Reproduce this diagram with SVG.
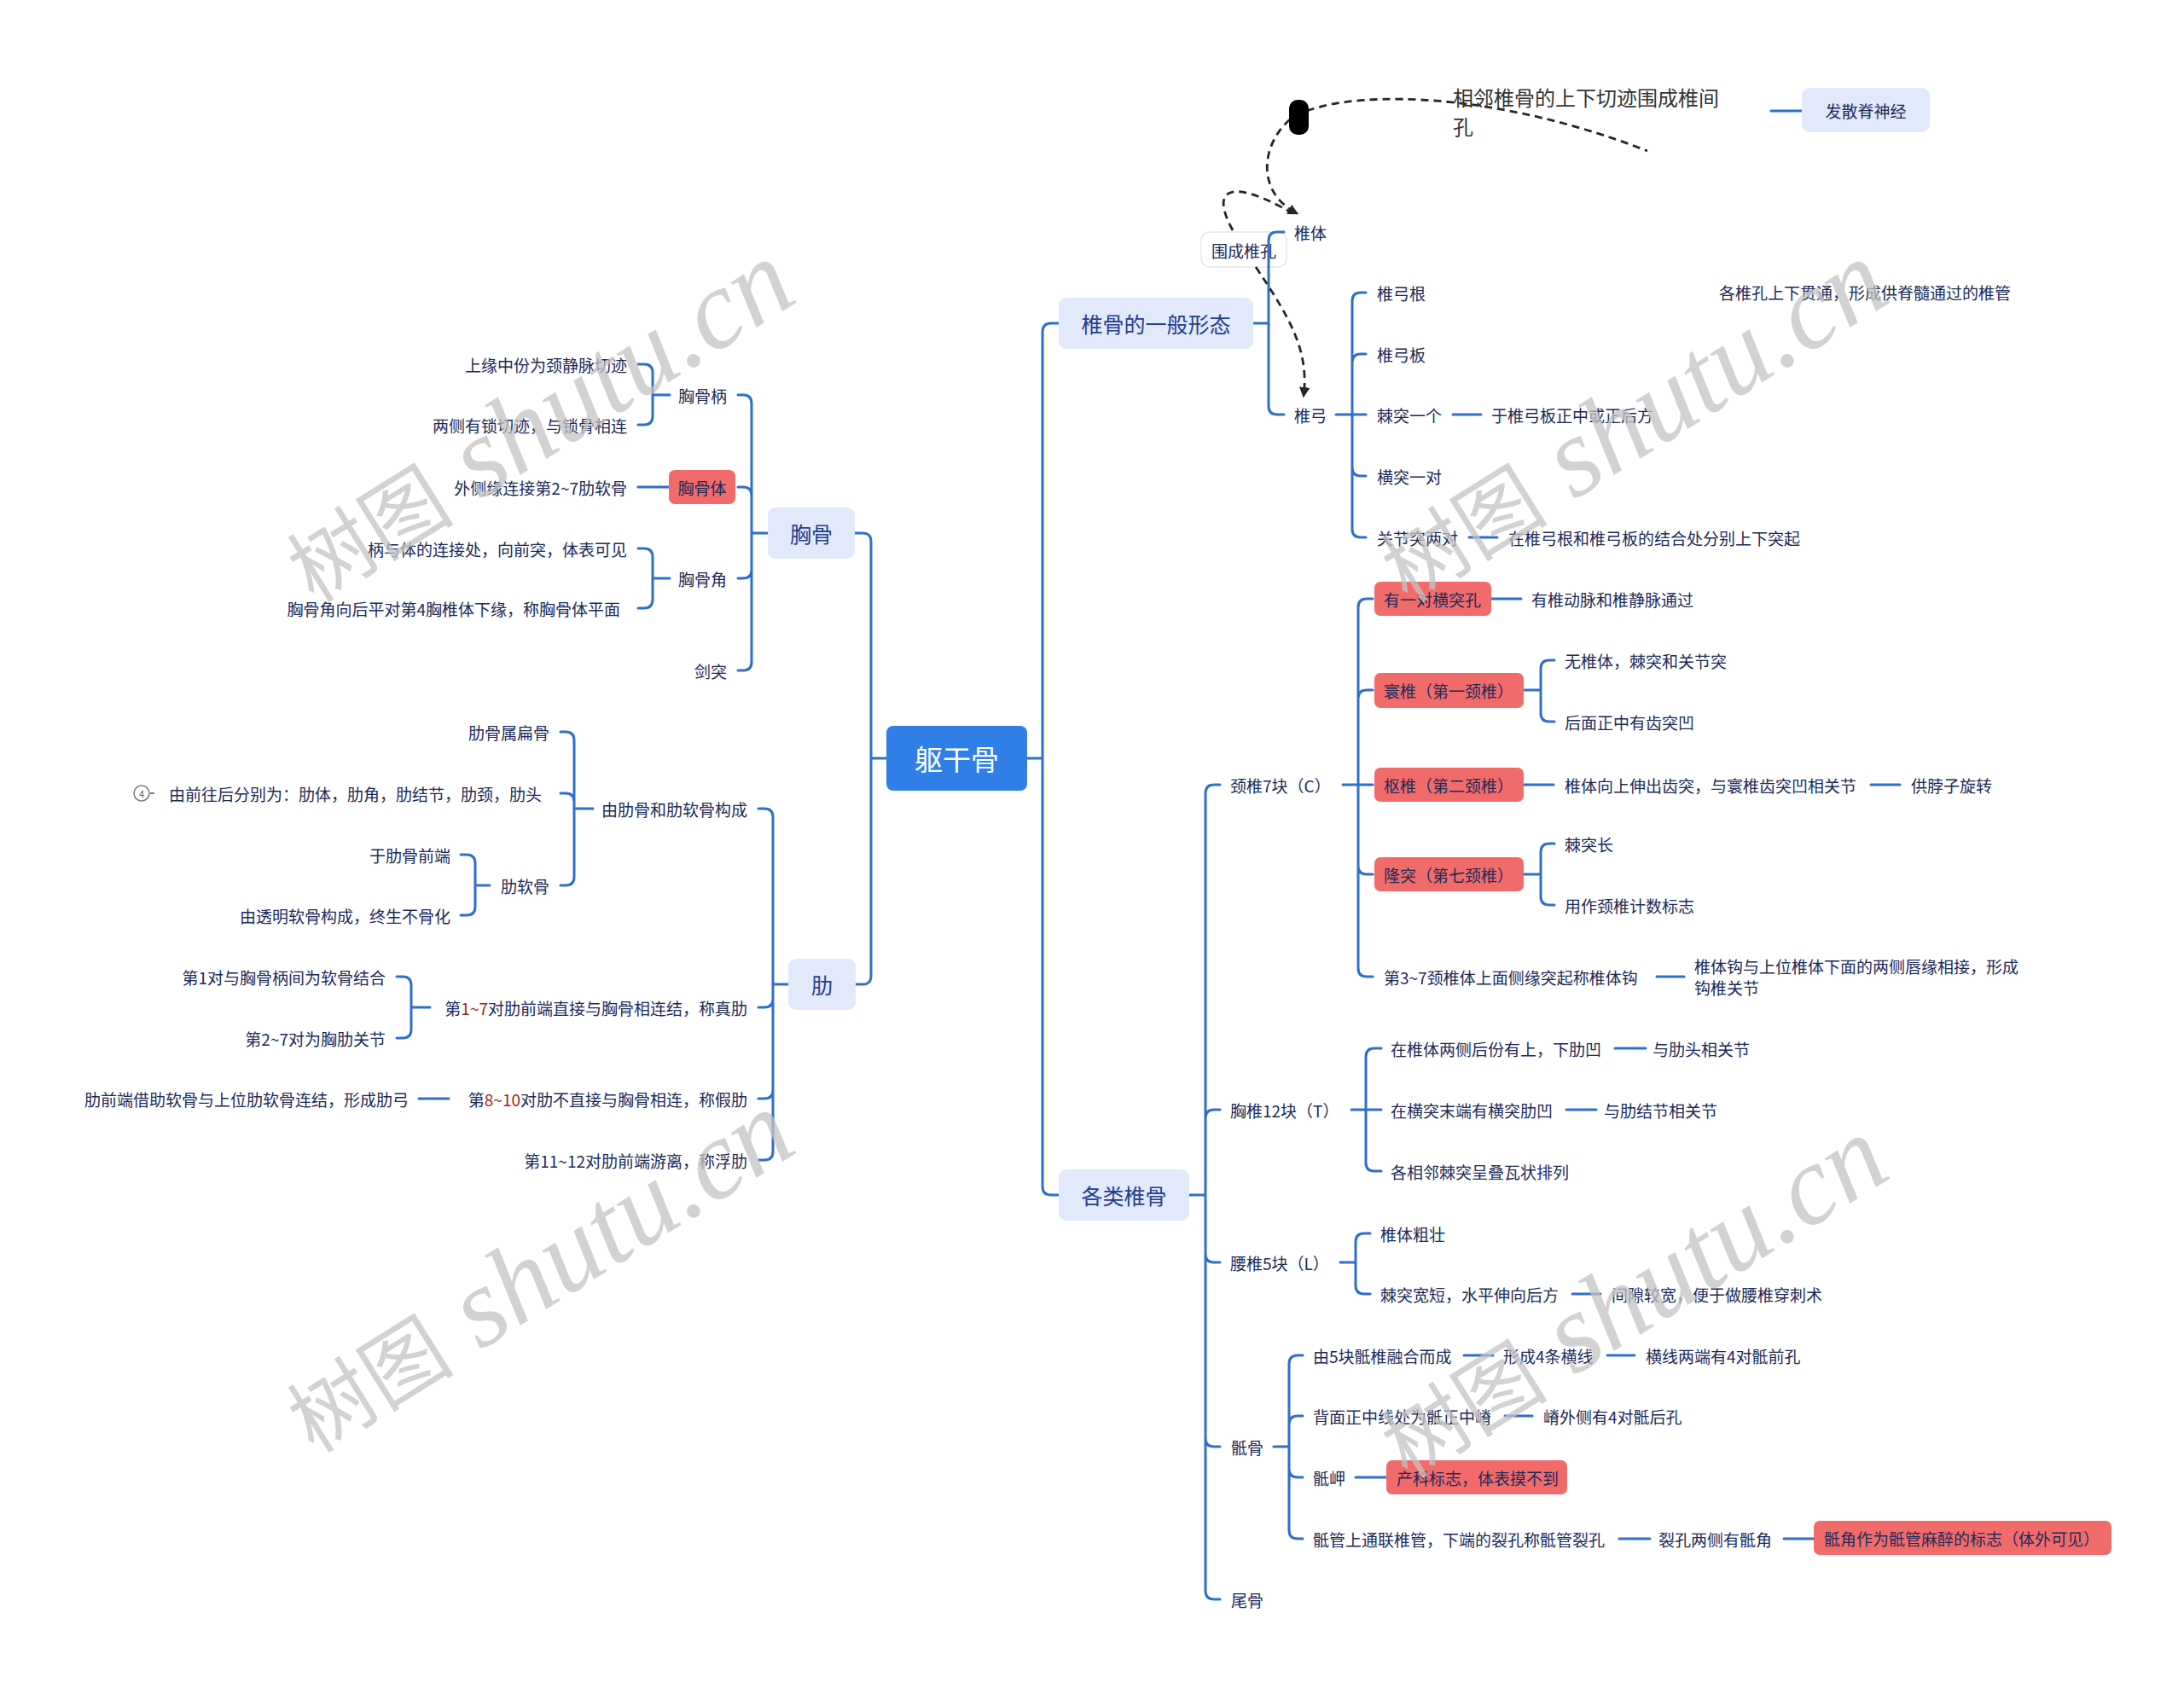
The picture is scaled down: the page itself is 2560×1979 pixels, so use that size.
<svg xmlns="http://www.w3.org/2000/svg" width="2560" height="1979" viewBox="0 0 2560 1979">
<defs>
<style>
.t{font-family:'Noto Sans CJK SC','Noto Sans',sans-serif;font-size:19px;fill:#1b2a58;dominant-baseline:central}
.e{text-anchor:end}
.m{text-anchor:middle}
.l1{font-size:25px;fill:#1f3f8f}
.c{fill:none;stroke:#2f6fcc;stroke-width:3;stroke-linecap:round;stroke-linejoin:round}
.red{fill:#f26b6b}
.lb{fill:#e1e9fb}
.dash{fill:none;stroke:#262626;stroke-width:2.8;stroke-dasharray:9 6}
.rd{fill:#a31f1f}
.wm{font-family:'Liberation Serif','Noto Sans CJK SC',serif;fill:#c4c4c4;opacity:0.75}
</style>
<marker id="ah" viewBox="0 0 10 10" refX="8" refY="5" markerWidth="4.5" markerHeight="4.5" orient="auto">
<path d="M0,0 L10,5 L0,10 z" fill="#262626"/>
</marker>
</defs>
<rect width="2560" height="1979" fill="#ffffff"/>

<g id="label-weichengzhuikong">
<rect x="1408" y="272" width="100" height="41" rx="10" fill="#ffffff" stroke="#e8e8e8" stroke-width="1.5"/>
<text class="t m" x="1458" y="293">围成椎孔</text>
</g>

<g id="connectors">
<path class="c" d="M1204,889 H1222 M1222,889 V389 Q1222,379 1232,379 H1241 M1222,889 V1391 Q1222,1401 1232,1401 H1241"/>
<path class="c" d="M1039,889 H1021 M1021,889 V635 Q1021,625 1011,625 H1002 M1021,889 V1144 Q1021,1154 1011,1154 H1003"/>
<path class="c" d="M1469,379 H1487 M1487,379 V282 Q1487,272 1497,272 H1505 M1487,379 V476 Q1487,486 1497,486 H1505"/>
<path class="c" d="M1566,486 H1601 M1585,486 V353 Q1585,343 1595,343 H1601 M1585,486 V425 Q1585,415 1595,415 H1601 M1585,486 V548 Q1585,558 1595,558 H1601 M1585,486 V620 Q1585,630 1595,630 H1601 M1703,486 H1736 M1722,630 H1755"/>
<path class="c" d="M1394,1401 H1413 M1413,1401 V930 Q1413,920 1423,920 H1430 M1413,1401 V1311 Q1413,1301 1423,1301 H1430 M1413,1401 V1470 Q1413,1480 1423,1480 H1430 M1413,1401 V1686 Q1413,1696 1423,1696 H1430 M1413,1401 V1865 Q1413,1875 1423,1875 H1430"/>
<path class="c" d="M1574,920 H1609 M1592,920 V712 Q1592,702 1602,702 H1609 M1592,920 V819 Q1592,809 1602,809 H1609 M1592,920 V1015 Q1592,1025 1602,1025 H1609 M1592,920 V1135 Q1592,1145 1602,1145 H1609"/>
<path class="c" d="M1748,702 H1783 M1786,809 H1806 M1806,809 V784 Q1806,774 1816,774 H1822 M1806,809 V836 Q1806,846 1816,846 H1822 M1786,920 H1821 M2193,920 H2227 M1786,1025 H1806 M1806,1025 V999 Q1806,989 1816,989 H1822 M1806,1025 V1051 Q1806,1061 1816,1061 H1822 M1942,1145 H1974"/>
<path class="c" d="M1584,1301 H1619 M1601,1301 V1239 Q1601,1229 1611,1229 H1619 M1601,1301 V1363 Q1601,1373 1611,1373 H1619 M1893,1229 H1929 M1836,1301 H1871"/>
<path class="c" d="M1571,1480 H1589 M1589,1480 V1456 Q1589,1446 1599,1446 H1606 M1589,1480 V1507 Q1589,1517 1599,1517 H1606 M1843,1517 H1876"/>
<path class="c" d="M1493,1696 H1511 M1511,1696 V1599 Q1511,1589 1521,1589 H1527 M1511,1696 V1670 Q1511,1660 1521,1660 H1527 M1511,1696 V1722 Q1511,1732 1521,1732 H1527 M1511,1696 V1794 Q1511,1804 1521,1804 H1527 M1716,1589 H1750 M1884,1589 H1916 M1764,1660 H1796 M1589,1732 H1625 M1898,1804 H1934 M2091,1804 H2126"/>
<path class="c" d="M2076,130 H2112"/>
<path class="c" d="M900,625 H881 M881,625 V473 Q881,463 871,463 H865 M881,625 V581 Q881,571 871,571 H865 M881,625 V668 Q881,678 871,678 H865 M881,625 V776 Q881,786 871,786 H865"/>
<path class="c" d="M785,463 H765 M765,463 V437 Q765,427 755,427 H748 M765,463 V488 Q765,498 755,498 H748 M784,571 H748 M785,678 H765 M765,678 V653 Q765,643 755,643 H748 M765,678 V703 Q765,713 755,713 H748"/>
<path class="c" d="M924,1154 H906 M906,1154 V958 Q906,948 896,948 H889 M906,1154 V1171 Q906,1181 896,1181 H889 M906,1154 V1278 Q906,1288 896,1288 H889 M906,1154 V1350 Q906,1360 896,1360 H889"/>
<path class="c" d="M695,948 H673 M673,948 V868 Q673,858 663,858 H657 M673,948 V940 Q673,930 663,930 H657 M673,948 V1028 Q673,1038 663,1038 H657"/>
<path class="c" d="M574,1038 H557 M557,1038 V1012 Q557,1002 547,1002 H540 M557,1038 V1063 Q557,1073 547,1073 H540"/>
<path class="c" d="M504,1181 H482 M482,1181 V1155 Q482,1145 472,1145 H465 M482,1181 V1207 Q482,1217 472,1217 H465 M526,1288 H491"/>
<path class="dash" d="M1532,130 C1600,105 1760,110 1931,177"/>
<path class="dash" d="M1512,140 C1478,170 1472,225 1520,250" marker-end="url(#ah)"/>
<path class="dash" d="M1445,270 C1415,215 1450,212 1515,250"/>
<path class="dash" d="M1472,313 C1510,370 1535,410 1528,464" marker-end="url(#ah)"/>
</g>

<rect id="handle" x="1511" y="117" width="23" height="41" rx="10" fill="#000000"/>

<g id="root"><rect x="1039" y="851" width="165" height="76" rx="8" fill="#2f7fe6"/><text class="t m" x="1121.5" y="889" style="font-size:33px;fill:#ffffff">躯干骨</text></g>

<g id="n-zhuigu-xingtai"><rect class="lb" x="1241" y="349" width="228" height="60" rx="9"/><text class="t m l1" x="1355" y="379">椎骨的一般形态</text></g>
<g id="n-gelei"><rect class="lb" x="1241" y="1371" width="153" height="60" rx="9"/><text class="t m l1" x="1317.5" y="1401">各类椎骨</text></g>
<g id="n-xionggu"><rect class="lb" x="900" y="595" width="102" height="60" rx="9"/><text class="t m l1" x="951" y="625">胸骨</text></g>
<g id="n-lei"><rect class="lb" x="924" y="1124" width="79" height="60" rx="9"/><text class="t m l1" x="963.5" y="1154">肋</text></g>

<g id="n-zhuiti"><text class="t" x="1517" y="272">椎体</text></g>
<g id="n-zhuigong"><text class="t" x="1517" y="486">椎弓</text></g>
<g id="n-zhuigonggen"><text class="t" x="1614" y="343">椎弓根</text></g>
<g id="n-zhuigongban"><text class="t" x="1614" y="415">椎弓板</text></g>
<g id="n-jitu"><text class="t" x="1614" y="486">棘突一个</text><text class="t" x="1748" y="486">于椎弓板正中或正后方</text></g>
<g id="n-hengtu"><text class="t" x="1614" y="558">横突一对</text></g>
<g id="n-guanjietu"><text class="t" x="1614" y="630">关节突两对</text><text class="t" x="1768" y="630">在椎弓根和椎弓板的结合处分别上下突起</text></g>
<g id="n-zhuiguan"><text class="t" x="2015" y="342">各椎孔上下贯通，形成供脊髓通过的椎管</text></g>
<g id="n-zhuijiankong"><text class="t" x="1703" y="113" style="font-size:24px;fill:#333333">相邻椎骨的上下切迹围成椎间</text><text class="t" x="1703" y="147" style="font-size:24px;fill:#333333">孔</text></g>
<g id="n-fasan"><rect class="lb" x="2112" y="103" width="150" height="52" rx="9"/><text class="t m" x="2187" y="129">发散脊神经</text></g>

<g id="n-jingzhui"><text class="t" x="1442" y="920">颈椎7块（C）</text></g>
<g id="n-hengtukong"><rect class="red" x="1611" y="682" width="137" height="40" rx="7"/><text class="t" x="1622" y="702">有一对横突孔</text><text class="t" x="1795" y="702">有椎动脉和椎静脉通过</text></g>
<g id="n-huanzhui"><rect class="red" x="1611" y="789" width="175" height="41" rx="7"/><text class="t" x="1622" y="809">寰椎（第一颈椎）</text><text class="t" x="1834" y="774">无椎体，棘突和关节突</text><text class="t" x="1834" y="846">后面正中有齿突凹</text></g>
<g id="n-shuzhui"><rect class="red" x="1611" y="900" width="175" height="40" rx="7"/><text class="t" x="1622" y="920">枢椎（第二颈椎）</text><text class="t" x="1834" y="920">椎体向上伸出齿突，与寰椎齿突凹相关节</text><text class="t" x="2240" y="920">供脖子旋转</text></g>
<g id="n-longtu"><rect class="red" x="1611" y="1005" width="175" height="40" rx="7"/><text class="t" x="1622" y="1025">隆突（第七颈椎）</text><text class="t" x="1834" y="989">棘突长</text><text class="t" x="1834" y="1061">用作颈椎计数标志</text></g>
<g id="n-zhuitigou"><text class="t" x="1622" y="1145">第3~7颈椎体上面侧缘突起称椎体钩</text><text class="t" x="1986" y="1132">椎体钩与上位椎体下面的两侧唇缘相接，形成</text><text class="t" x="1986" y="1157">钩椎关节</text></g>

<g id="n-xiongzhui"><text class="t" x="1442" y="1301">胸椎12块（T）</text><text class="t" x="1630" y="1229">在椎体两侧后份有上，下肋凹</text><text class="t" x="1937" y="1229">与肋头相关节</text><text class="t" x="1630" y="1301">在横突末端有横突肋凹</text><text class="t" x="1880" y="1301">与肋结节相关节</text><text class="t" x="1630" y="1373">各相邻棘突呈叠瓦状排列</text></g>
<g id="n-yaozhui"><text class="t" x="1442" y="1480">腰椎5块（L）</text><text class="t" x="1618" y="1446">椎体粗壮</text><text class="t" x="1618" y="1517">棘突宽短，水平伸向后方</text><text class="t" x="1889" y="1517">间隙较宽，便于做腰椎穿刺术</text></g>
<g id="n-digu"><text class="t" x="1443" y="1696">骶骨</text><text class="t" x="1539" y="1589">由5块骶椎融合而成</text><text class="t" x="1762" y="1589">形成4条横线</text><text class="t" x="1929" y="1589">横线两端有4对骶前孔</text><text class="t" x="1539" y="1660">背面正中线处为骶正中嵴</text><text class="t" x="1809" y="1660">嵴外侧有4对骶后孔</text><text class="t" x="1539" y="1732">骶岬</text><rect class="red" x="1625" y="1712" width="212" height="40" rx="7"/><text class="t" x="1637" y="1732">产科标志，体表摸不到</text><text class="t" x="1539" y="1804">骶管上通联椎管，下端的裂孔称骶管裂孔</text><text class="t" x="1944" y="1804">裂孔两侧有骶角</text><rect class="red" x="2126" y="1783" width="349" height="40" rx="7"/><text class="t" x="2138" y="1803">骶角作为骶管麻醉的标志（体外可见）</text></g>
<g id="n-weigu"><text class="t" x="1443" y="1875">尾骨</text></g>

<g id="n-xionggubing"><text class="t e" x="852" y="463">胸骨柄</text><text class="t e" x="735" y="427">上缘中份为颈静脉切迹</text><text class="t e" x="735" y="498">两侧有锁切迹，与锁骨相连</text></g>
<g id="n-xiongguti"><rect class="red" x="784" y="551" width="78" height="40" rx="7"/><text class="t m" x="823" y="571">胸骨体</text><text class="t e" x="735" y="571">外侧缘连接第2~7肋软骨</text></g>
<g id="n-xionggujiao"><text class="t e" x="852" y="678">胸骨角</text><text class="t e" x="735" y="643">柄与体的连接处，向前突，体表可见</text><text class="t e" x="727" y="713">胸骨角向后平对第4胸椎体下缘，称胸骨体平面</text></g>
<g id="n-jiantu"><text class="t e" x="852" y="786">剑突</text></g>

<g id="n-lei-gou"><text class="t e" x="876" y="948">由肋骨和肋软骨构成</text><text class="t e" x="644" y="858">肋骨属扁骨</text><circle cx="166" cy="930" r="9" fill="#ffffff" stroke="#7a7a7a" stroke-width="1.5"/><text class="t m" x="166" y="930" style="font-size:11px;fill:#555555">4</text><path d="M176,930 H181" stroke="#7a7a7a" stroke-width="2"/><text class="t e" x="635" y="930">由前往后分别为：肋体，肋角，肋结节，肋颈，肋头</text><text class="t e" x="644" y="1038">肋软骨</text><text class="t e" x="528" y="1002">于肋骨前端</text><text class="t e" x="528" y="1073">由透明软骨构成，终生不骨化</text></g>
<g id="n-zhenlei"><text class="t e" x="876" y="1181">第<tspan class="rd">1~7</tspan>对肋前端直接与胸骨相连结，称真肋</text><text class="t e" x="452" y="1145">第1对与胸骨柄间为软骨结合</text><text class="t e" x="452" y="1217">第2~7对为胸肋关节</text></g>
<g id="n-jialei"><text class="t e" x="876" y="1288">第<tspan class="rd">8~10</tspan>对肋不直接与胸骨相连，称假肋</text><text class="t e" x="479" y="1288">肋前端借助软骨与上位肋软骨连结，形成肋弓</text></g>
<g id="n-fulei"><text class="t e" x="876" y="1360">第11~12对肋前端游离，称浮肋</text></g>

<g id="watermarks">
<text class="wm" transform="translate(368,708) rotate(-32)"><tspan style="font-size:98px">树图</tspan><tspan style="font-size:132px;font-style:italic"> shutu.cn</tspan></text>
<text class="wm" transform="translate(1650,708) rotate(-32)"><tspan style="font-size:98px">树图</tspan><tspan style="font-size:132px;font-style:italic"> shutu.cn</tspan></text>
<text class="wm" transform="translate(368,1705) rotate(-32)"><tspan style="font-size:98px">树图</tspan><tspan style="font-size:132px;font-style:italic"> shutu.cn</tspan></text>
<text class="wm" transform="translate(1650,1735) rotate(-32)"><tspan style="font-size:98px">树图</tspan><tspan style="font-size:132px;font-style:italic"> shutu.cn</tspan></text>
</g>
</svg>
